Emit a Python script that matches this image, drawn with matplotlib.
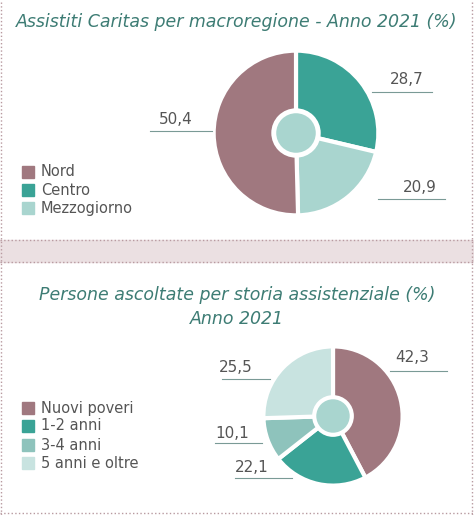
import matplotlib
matplotlib.use("Agg")
import matplotlib.pyplot as plt
from matplotlib.patches import Rectangle, Circle
from matplotlib.lines import Line2D

W, H = 474, 515
fig = plt.figure(figsize=(W/100, H/100), dpi=100)
fig.patch.set_facecolor("white")

top_title = "Assistiti Caritas per macroregione - Anno 2021 (%)"
top_cats = ["Nord", "Centro", "Mezzogiorno"]
top_vals = [50.4, 28.7, 20.9]
top_labels = ["50,4", "28,7", "20,9"]
bot_title = "Persone ascoltate per storia assistenziale (%)\nAnno 2021"
bot_cats = ["Nuovi poveri", "1-2 anni", "3-4 anni", "5 anni e oltre"]
bot_vals = [42.3, 22.1, 10.1, 25.5]
bot_labels = ["42,3", "22,1", "10,1", "25,5"]

c_nord, c_centro, c_mezzo = "#a0787f", "#3aa396", "#a9d5cf"
top_cols = [c_nord, c_centro, c_mezzo]
bot_cols = [c_nord, c_centro, "#8ec3bc", "#c8e3e0"]
tcol = "#3d7c74"
txt = "#555555"

def fx(x): return x / W
def fy(y): return 1 - y / H

# background band and dotted borders
fig.patches.append(Rectangle((0, fy(262)), 1, (262-240)/H, transform=fig.transFigure, color="#ebe0e2", zorder=0))
for y in (240, 262):
    fig.lines.append(Line2D([0, 1], [fy(y), fy(y)], transform=fig.transFigure, color="#b89aa0", ls=":", lw=1))
for x in (1, 472):
    fig.lines.append(Line2D([fx(x), fx(x)], [0, 1], transform=fig.transFigure, color="#b89aa0", ls=":", lw=1))
fig.lines.append(Line2D([0, 1], [fy(513), fy(513)], transform=fig.transFigure, color="#b89aa0", ls=":", lw=1))

def pie(cx, cy, r, vals, cols, order):
    ax = fig.add_axes([fx(cx - r), fy(cy + r), 2*r/W, 2*r/H])
    v = [vals[i] for i in order]
    c = [cols[i] for i in order]
    ax.pie(v, colors=c, startangle=90, counterclock=False,
           wedgeprops=dict(edgecolor="white", linewidth=3))
    ax.add_patch(Circle((0, 0), 0.3, facecolor="white", zorder=3))
    ax.add_patch(Circle((0, 0), 0.24, facecolor=c_mezzo, zorder=4))
    ax.set_xlim(-1.02, 1.02); ax.set_ylim(-1.02, 1.02)
    ax.set_aspect("equal"); ax.axis("off")

pie(296, 133, 84, top_vals, top_cols, [1, 2, 0])
pie(333, 416, 71, bot_vals, bot_cols, [0, 1, 2, 3])

fig.text(0.5, fy(22), top_title, ha="center", va="center", fontsize=12.5, style="italic", color=tcol, family="Fira Sans" if False else "DejaVu Sans")
fig.text(0.5, fy(307), bot_title, ha="center", va="center", fontsize=12.5, style="italic", color=tcol, linespacing=1.5)

def label(t, x, y, x0, x1, ly):
    fig.text(fx(x), fy(y), t, ha="center", va="center", fontsize=11, color=txt)
    fig.lines.append(Line2D([fx(x0), fx(x1)], [fy(ly), fy(ly)], transform=fig.transFigure, color="#7a9a96", lw=0.8))

label(top_labels[0], 176, 120, 150, 212, 131)
label(top_labels[1], 407, 80, 372, 432, 92)
label(top_labels[2], 420, 187, 378, 445, 199)
label(bot_labels[0], 412, 358, 390, 447, 371)
label(bot_labels[3], 236, 368, 222, 270, 379)
label(bot_labels[2], 232, 433, 215, 262, 443)
label(bot_labels[1], 252, 467, 235, 292, 478)

def legend(cats, cols, x, ys):
    for c, col, y in zip(cats, cols, ys):
        fig.patches.append(Rectangle((fx(x), fy(y + 6)), 12/W, 12/H, transform=fig.transFigure, color=col))
        fig.text(fx(x + 19), fy(y), c, ha="left", va="center", fontsize=10.5, color=txt)

legend(top_cats, top_cols, 22, [172, 190, 208])
legend(bot_cats, bot_cols, 22, [408, 426, 445, 463])

fig.savefig("out.png", dpi=100)
